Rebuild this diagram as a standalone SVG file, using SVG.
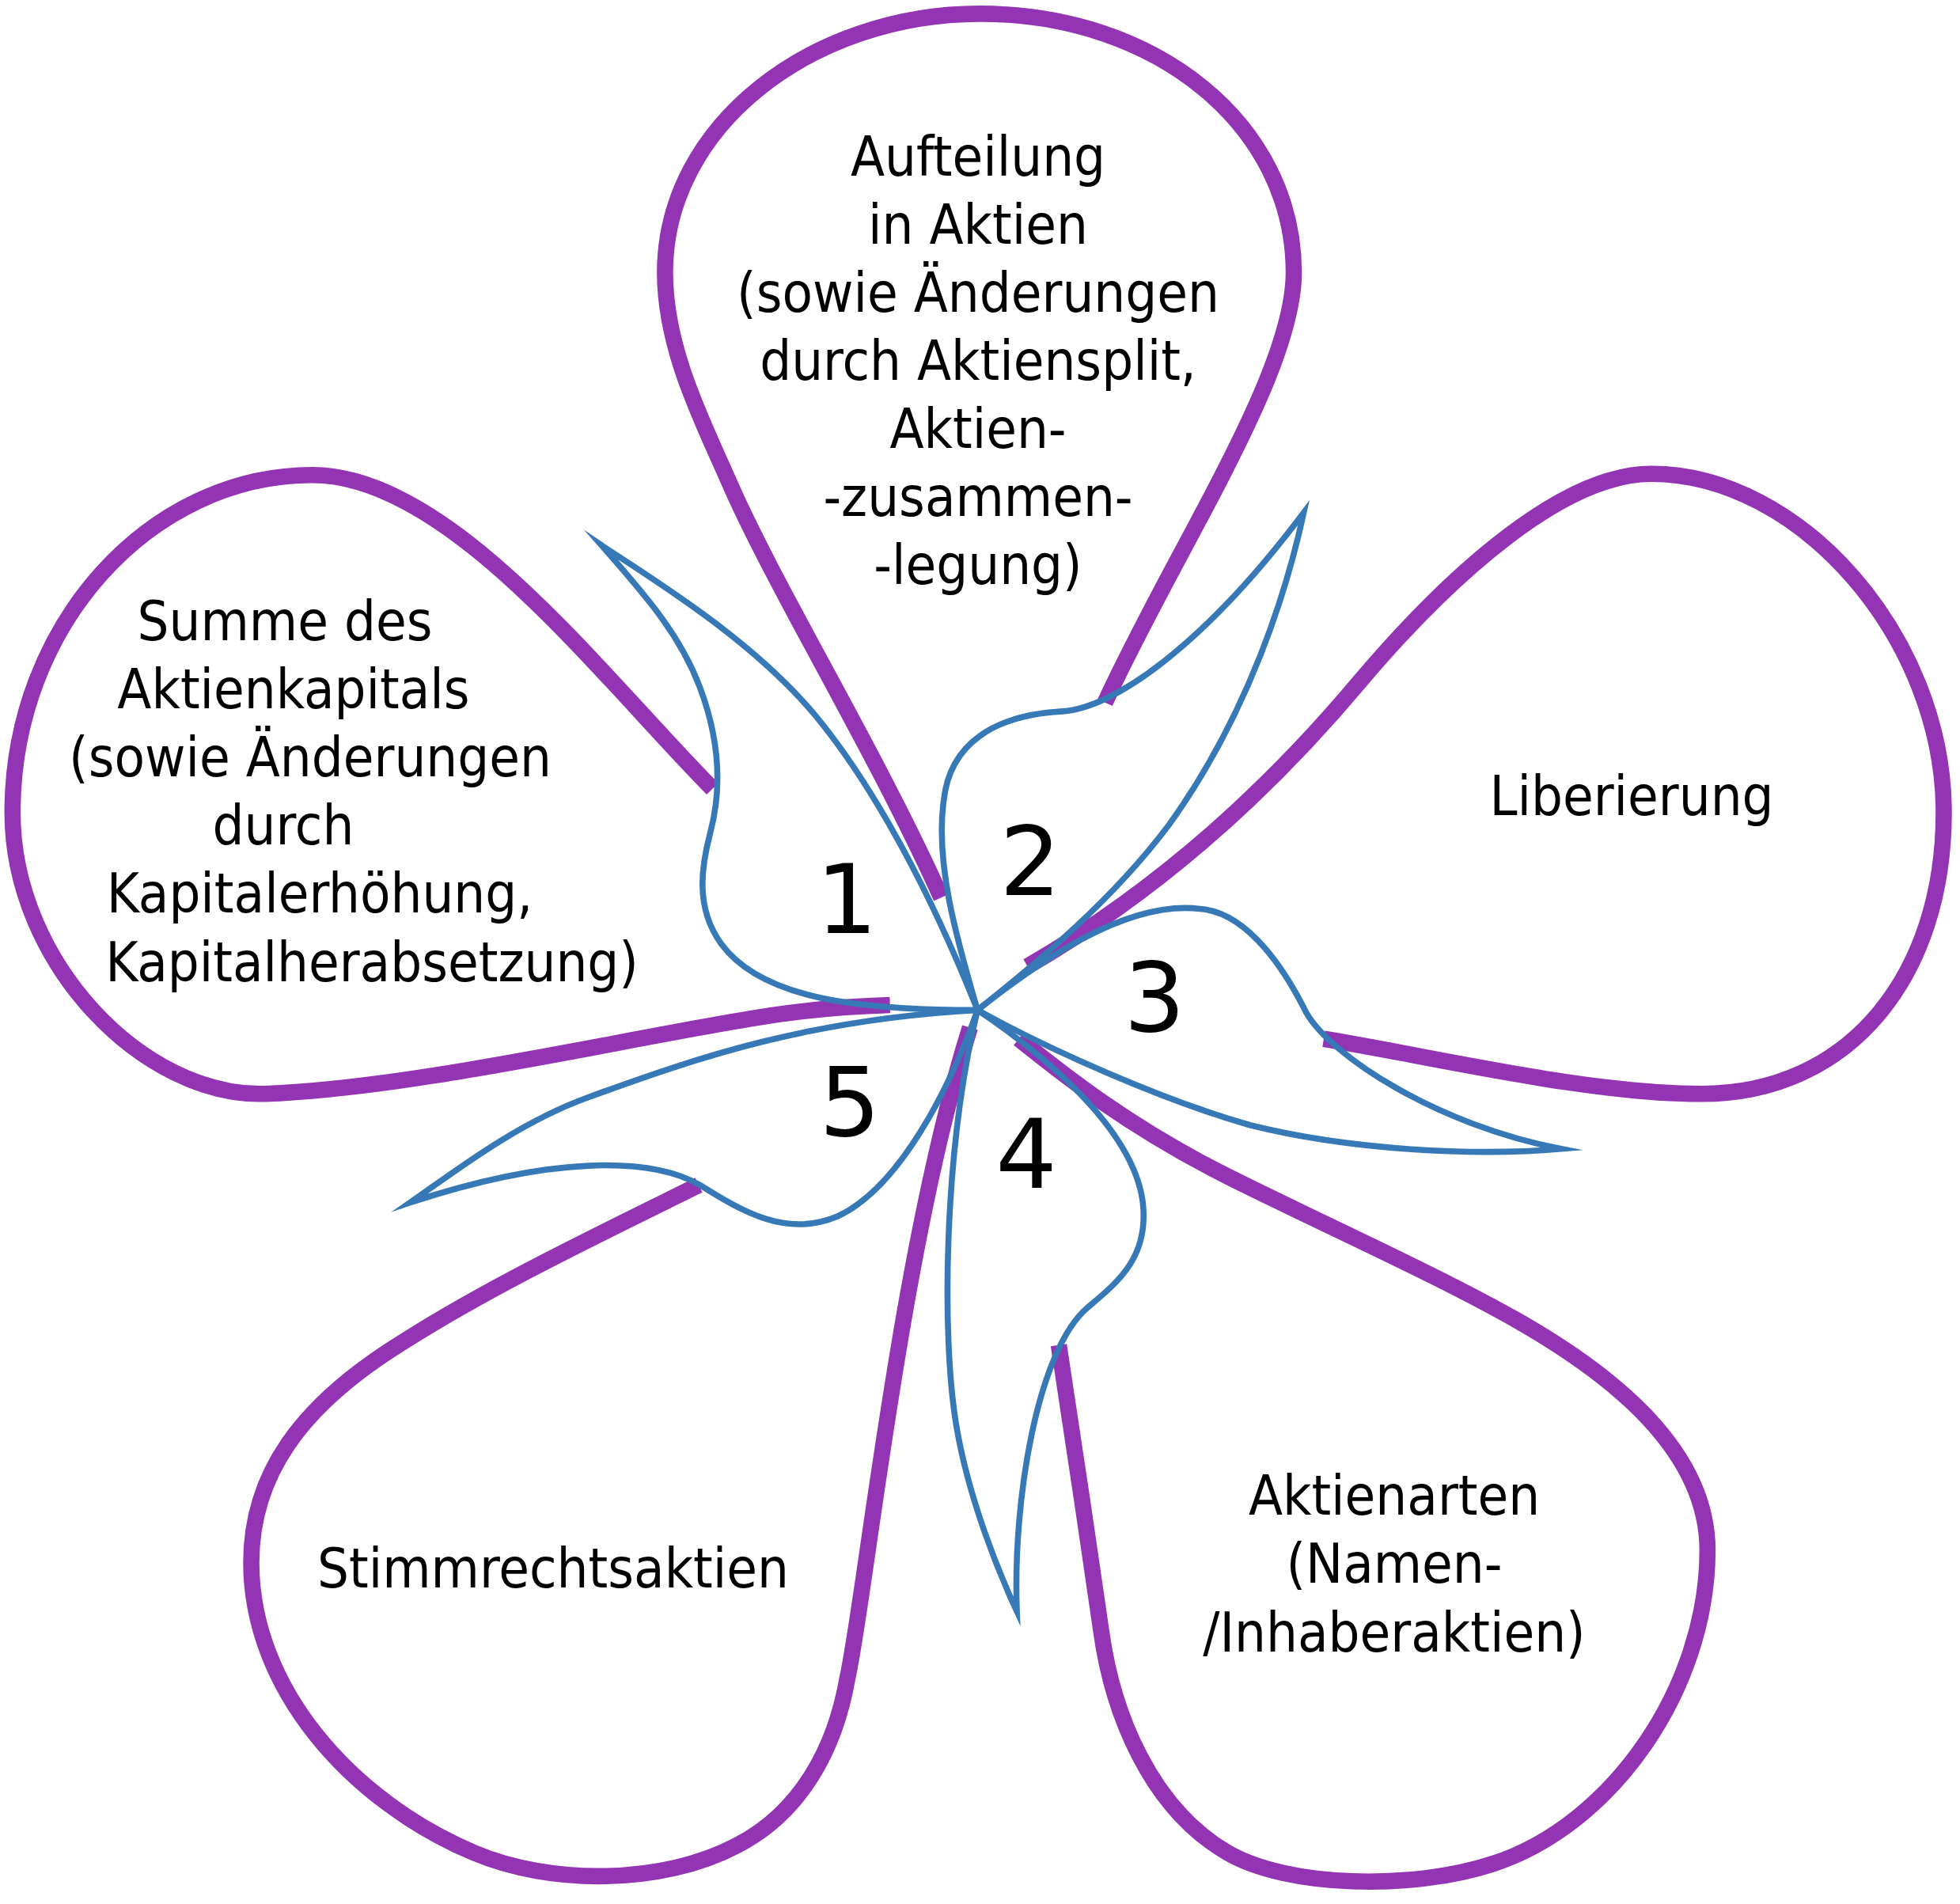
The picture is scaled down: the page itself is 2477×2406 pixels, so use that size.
<svg xmlns="http://www.w3.org/2000/svg" width="2477" height="2406" viewBox="0 0 2477 2406">
<style>
.petal{fill:none;stroke:#9334B4;stroke-width:13;stroke-linecap:butt;stroke-linejoin:round}
.leaf{fill:none;stroke:#3779B7;stroke-width:4.8;stroke-linejoin:miter;stroke-miterlimit:20}
.t{font-family:"DejaVu Sans Condensed","DejaVu Sans",sans-serif;font-size:70px;fill:#000;text-anchor:middle}
.n{font-family:"DejaVu Sans",sans-serif;font-size:122px;fill:#000;text-anchor:middle}
</style>
<rect x="0" y="0" width="2477" height="2406" fill="#fff"/>
<g id="petal-top">
<path class="petal" transform="scale(1.57972)" d="M 753,718 C 700,600 620,470 583,385 C 563,339 532,280 532,218 C 532,100 650,11 784,11 C 925,11 1035,100 1035,218 C 1035,300 940,440 884,562"/>
<text class="t" x="1236" y="222">Aufteilung</text>
<text class="t" x="1236" y="308">in Aktien</text>
<text class="t" x="1236" y="394">(sowie Änderungen</text>
<text class="t" x="1236" y="480">durch Aktiensplit,</text>
<text class="t" x="1236" y="566">Aktien-</text>
<text class="t" x="1236" y="652">-zusammen-</text>
<text class="t" x="1236" y="738">-legung)</text>
</g>
<g id="petal-left">
<path class="petal" transform="scale(1.57972)" d="M 570,631 C 480,540 360,380 250,380 C 120,380 10,500 10,650 C 10,770 115,878 212,875 C 330,870 480,835 600,815 C 640,808 680,805 712,804"/>
<text class="t" x="360" y="809">Summe des</text>
<text class="t" x="371" y="895">Aktienkapitals</text>
<text class="t" x="392" y="981">(sowie Änderungen</text>
<text class="t" x="358" y="1067">durch</text>
<text class="t" x="404" y="1153">Kapitalerhöhung,</text>
<text class="t" x="470" y="1240">Kapitalherabsetzung)</text>
</g>
<g id="petal-right">
<path class="petal" transform="scale(1.57972)" d="M 822,773 C 910,722 1000,650 1088,545 C 1160,460 1250,379 1321,379 C 1440,379 1555,510 1555,650 C 1555,780 1480,875 1361,875 C 1270,875 1150,846 1059,831"/>
<text class="t" x="2062" y="1030">Liberierung</text>
</g>
<g id="petal-bottom-right">
<path class="petal" transform="scale(1.57972)" d="M 815,831 C 845,855 900,900 982,941 C 1060,980 1150,1020 1215,1057 C 1290,1100 1366,1160 1366,1240 C 1366,1350 1290,1460 1194,1491 C 1130,1512 1030,1510 982,1482 C 920,1446 890,1370 881,1305 C 872,1240 855,1130 847,1076"/>
<text class="t" x="1762" y="1914">Aktienarten</text>
<text class="t" x="1762" y="2000">(Namen-</text>
<text class="t" x="1762" y="2087">/Inhaberaktien)</text>
</g>
<g id="petal-bottom-left">
<path class="petal" transform="scale(1.57972)" d="M 559,948 C 480,987 390,1030 320,1075 C 240,1125 201,1180 201,1250 C 201,1350 280,1440 379,1482 C 440,1508 530,1508 590,1476 C 640,1450 668,1400 678,1342 C 692,1280 720,1000 776,822"/>
<text class="t" x="699" y="2006">Stimmrechtsaktien</text>
</g>
<g id="connectors">
<g id="leaf-1">
<path class="leaf" transform="scale(1.57972)" d="M 782,808 C 690,808 610,800 577,755 C 555,725 562,690 568,667 C 578,630 575,590 560,550 C 545,510 520,480 481,436 C 520,462 600,510 652,572 C 700,630 745,715 782,808"/>
<text class="n" x="1070" y="1179">1</text>
</g>
<g id="leaf-2">
<path class="leaf" transform="scale(1.57972)" d="M 782,808 C 765,750 748,690 755,640 C 760,595 795,572 850,569 C 890,566 960,520 1043,410 C 1030,470 1000,570 935,660 C 890,720 830,770 782,808"/>
<text class="n" x="1302" y="1131">2</text>
</g>
<g id="leaf-3">
<path class="leaf" transform="scale(1.57972)" d="M 782,808 C 830,770 900,720 960,727 C 1000,730 1030,780 1045,810 C 1065,845 1150,900 1249,919 C 1180,925 1080,920 1000,900 C 930,880 840,840 782,808"/>
<text class="n" x="1459" y="1303">3</text>
</g>
<g id="leaf-4">
<path class="leaf" transform="scale(1.57972)" d="M 782,808 C 830,840 905,900 914,960 C 920,1005 895,1025 870,1046 C 830,1080 810,1200 813.5,1289 C 800,1260 775,1200 765,1140 C 753,1068 755,920 782,808"/>
<text class="n" x="1297" y="1501">4</text>
</g>
<g id="leaf-5">
<path class="leaf" transform="scale(1.57972)" d="M 782,808 C 760,870 720,950 670,973 C 630,990 595,970 560,948 C 520,925 440,925 328,962 C 360,940 412,899 470,878 C 560,845 650,815 782,808"/>
<text class="n" x="1074" y="1435">5</text>
</g>
</g>
</svg>
